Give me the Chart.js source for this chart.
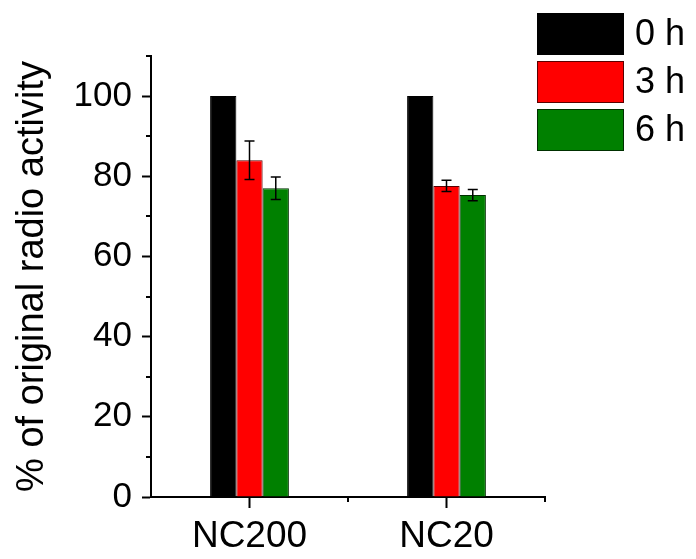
<!DOCTYPE html>
<html>
<head>
<meta charset="utf-8">
<script src="https://cdn.jsdelivr.net/npm/chart.js@4/dist/chart.umd.min.js"></script>
<style>
  html, body { margin: 0; padding: 0; background: #fff; }
  #wrap { width: 696px; height: 559px; }
</style>
</head>
<body>
<div id="wrap"><canvas id="chart" width="696" height="559"></canvas></div>
<script>
// data
const categories = ["NC200", "NC20"]
const seriesLabels = ["0 h", "3 h", "6 h"]
const h0 = [100, 100]
const h3 = [84, 77.6]
const h6 = [77, 75.3]
const err0 = [0, 0]
const err3 = [4.8, 1.4]
const err6 = [2.8, 1.4]
const yMajor = [0, 20, 40, 60, 80, 100]
const yMinor = [10, 30, 50, 70, 90, 110]

const FONT = "'Liberation Sans', Arial, sans-serif"

// error bars on top of each bar
const errorBars = {
  id: "errorBars",
  afterDatasetsDraw(chart) {
    const ctx = chart.ctx
    const y = chart.scales.y
    ctx.save()
    ctx.strokeStyle = "#000"
    ctx.lineWidth = 1.5
    chart.data.datasets.forEach((ds, i) => {
      const meta = chart.getDatasetMeta(i)
      meta.data.forEach((bar, j) => {
        const e = ds.errors[j]
        if (!e) return
        const v = ds.data[j]
        const top = y.getPixelForValue(v + e)
        const bot = y.getPixelForValue(v - e)
        const cx = bar.x
        ctx.beginPath()
        ctx.moveTo(cx, top); ctx.lineTo(cx, bot)
        ctx.moveTo(cx - 5, top); ctx.lineTo(cx + 5, top)
        ctx.moveTo(cx - 5, bot); ctx.lineTo(cx + 5, bot)
        ctx.stroke()
      })
    })
    ctx.restore()
  },
}

// minor ticks on both axes
const minorTicks = {
  id: "minorTicks",
  afterDraw(chart) {
    const ctx = chart.ctx
    const x = chart.scales.x
    const y = chart.scales.y
    const area = chart.chartArea
    ctx.save()
    ctx.strokeStyle = "#000"
    ctx.lineWidth = 2
    ctx.beginPath()
    yMinor.forEach(v => {
      const py = Math.round(y.getPixelForValue(v))
      ctx.moveTo(area.left, py); ctx.lineTo(area.left - 5, py)
    })
    for (let k = 1; k <= categories.length; k++) {
      const px = Math.round((x.getPixelForTick(k - 1) + (k < categories.length ? x.getPixelForTick(k) : area.right + (area.right - x.getPixelForTick(k - 1)))) / 2)
      ctx.moveTo(px, area.bottom); ctx.lineTo(px, area.bottom + 5)
    }
    ctx.stroke()
    ctx.restore()
  },
}

// legend boxes at the top right
const boxLegend = {
  id: "boxLegend",
  afterDraw(chart) {
    const ctx = chart.ctx
    ctx.save()
    ctx.font = "36px " + FONT
    ctx.textBaseline = "middle"
    ctx.textAlign = "left"
    chart.data.datasets.forEach((ds, i) => {
      const top = 13 + i * 48
      ctx.fillStyle = ds.backgroundColor
      ctx.fillRect(537, top, 87, 42)
      ctx.strokeStyle = ds.borderColor
      ctx.lineWidth = 1
      ctx.strokeRect(537.5, top + 0.5, 86, 41)
      ctx.fillStyle = "#000"
      ctx.fillText(ds.label, 635, top + 22)
    })
    ctx.restore()
  },
}

new Chart(document.getElementById("chart"), {
  type: "bar",
  data: {
    labels: categories,
    datasets: [
      { label: seriesLabels[0], data: h0, errors: err0, backgroundColor: "#000000", borderColor: "#000000" },
      { label: seriesLabels[1], data: h3, errors: err3, backgroundColor: "#ff0000", borderColor: "#5a0000" },
      { label: seriesLabels[2], data: h6, errors: err6, backgroundColor: "#008000", borderColor: "#003000" },
    ],
  },
  options: {
    responsive: false,
    animation: false,
    layout: { padding: { top: 56, right: 151, left: 0, bottom: 0 } },
    datasets: { bar: { borderWidth: 1, barPercentage: 1, categoryPercentage: 0.4 } },
    plugins: { legend: { display: false }, tooltip: { enabled: false } },
    scales: {
      x: {
        offset: true,
        grid: { drawOnChartArea: false, offset: false, tickLength: 11, tickWidth: 2, tickColor: "#000" },
        border: { color: "#000", width: 2 },
        ticks: { color: "#000", padding: 7, font: { family: FONT, size: 37 } },
        afterFit(s) { s.height = 62 },
      },
      y: {
        min: 0,
        max: 110,
        afterBuildTicks(s) { s.ticks = yMajor.map(v => ({ value: v })) },
        grid: { drawOnChartArea: false, tickLength: 9, tickWidth: 2, tickColor: "#000" },
        border: { color: "#000", width: 2 },
        ticks: { color: "#000", padding: 10, font: { family: FONT, size: 35 } },
        title: {
          display: true,
          text: "% of original radio activity",
          color: "#000",
          padding: { top: 10, bottom: 0 },
          font: { family: FONT, size: 38 },
        },
        afterFit(s) { s.width = 151 },
      },
    },
  },
  plugins: [errorBars, minorTicks, boxLegend],
})
</script>
</body>
</html>
